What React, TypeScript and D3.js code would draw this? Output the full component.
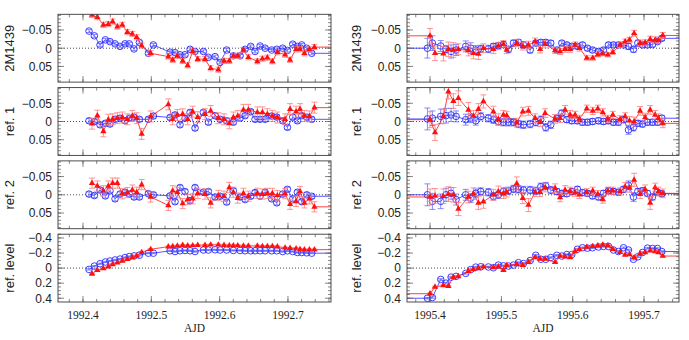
import React from 'react';
import * as d3 from 'd3';

// ---------- Night 1 (1992) ----------
const n1BlueT = [1992.4088, 1992.4166, 1992.4249, 1992.4327, 1992.4395, 1992.4469, 1992.4542, 1992.4615, 1992.4678, 1992.4747, 1992.4825, 1992.4957, 1992.5030, 1992.5274, 1992.5347, 1992.5420, 1992.5493, 1992.5567, 1992.5640, 1992.5762, 1992.5835, 1992.5933, 1992.6006, 1992.6103, 1992.6201, 1992.6299, 1992.6372, 1992.6455, 1992.6518, 1992.6592, 1992.6665, 1992.6762, 1992.6836, 1992.6923, 1992.6992, 1992.7070, 1992.7138, 1992.7202, 1992.7275, 1992.7348];
const n1RedT = [1992.4132, 1992.4210, 1992.4298, 1992.4371, 1992.4434, 1992.4503, 1992.4576, 1992.4649, 1992.4722, 1992.4786, 1992.4859, 1992.4991, 1992.5249, 1992.5313, 1992.5381, 1992.5459, 1992.5532, 1992.5606, 1992.5679, 1992.5786, 1992.5869, 1992.5981, 1992.6064, 1992.6142, 1992.6201, 1992.6265, 1992.6348, 1992.6421, 1992.6552, 1992.6626, 1992.6699, 1992.6772, 1992.6845, 1992.6958, 1992.7031, 1992.7119, 1992.7177, 1992.7241, 1992.7314, 1992.7387];

const n1TargetBlue = [-0.047, -0.034, -0.009, -0.023, -0.018, -0.012, -0.005, -0.012, -0.012, 0.002, -0.016, 0.014, -0.009, 0.011, 0.012, 0.018, 0.018, 0.003, 0.009, 0.009, 0.025, 0.023, 0.039, 0.005, 0.021, 0.021, 0.003, -0.005, 0.009, -0.006, 0, 0.005, 0.003, 0, 0.006, -0.011, -0.005, -0.009, 0, 0.014];
const n1TargetRed = [-0.091, -0.085, -0.064, -0.066, -0.073, -0.059, -0.064, -0.044, -0.039, -0.030, -0.007, 0.014, 0.023, 0.032, 0.021, 0.035, 0.047, 0.009, 0.030, 0.030, 0.055, 0.059, 0.035, 0.035, 0.021, 0.021, 0.005, 0.025, 0.036, 0.029, 0.026, 0.036, 0.011, 0.018, 0.032, 0.003, 0.003, 0.014, 0.003, -0.003];
const n1Ref1Blue = [-0.002, 0, 0.009, 0.005, 0.007, -0.006, -0.009, -0.002, -0.009, -0.012, -0.006, -0.006, -0.015, -0.011, -0.018, 0.009, -0.009, -0.025, 0.018, -0.025, 0.002, -0.016, -0.006, -0.002, 0.002, -0.009, -0.016, -0.027, -0.006, -0.006, -0.006, -0.015, -0.012, -0.002, 0.016, -0.012, -0.002, -0.016, -0.012, -0.006];
const n1Ref1Red = [0.006, -0.016, 0.027, -0.005, -0.006, -0.009, -0.011, -0.006, -0.015, -0.009, 0.034, -0.014, -0.047, -0.006, -0.018, -0.020, -0.006, -0.027, -0.012, -0.020, -0.029, -0.009, -0.006, 0.005, -0.011, -0.015, -0.032, -0.032, -0.025, -0.025, -0.020, -0.015, -0.011, -0.006, -0.034, -0.027, -0.034, -0.015, -0.014, -0.038];
const n1Ref2Blue = [-0.002, 0.002, -0.013, 0.003, -0.011, 0.011, -0.002, -0.007, -0.002, 0.006, 0.006, -0.003, 0, 0.003, 0.019, -0.020, -0.009, 0.016, -0.020, -0.007, -0.009, 0.006, 0.004, 0.020, -0.011, 0.006, 0.013, 0.004, -0.006, 0.004, -0.007, 0.011, 0.022, -0.002, -0.015, 0.011, -0.007, 0.019, 0, 0.004];
const n1Ref2Red = [-0.032, -0.024, -0.011, -0.024, -0.032, -0.032, -0.003, -0.006, -0.013, -0.007, -0.028, 0.006, 0.029, -0.011, -0.007, 0.024, 0.013, 0.011, -0.004, -0.002, 0.022, 0.002, 0.004, -0.020, -0.007, 0.009, -0.004, 0.004, -0.004, -0.002, -0.004, -0.004, 0.002, -0.003, 0.026, 0.018, -0.009, 0.022, 0.011, 0.033];
const n1LevelBlue = [0.018, -0.027, -0.058, -0.081, -0.094, -0.108, -0.12, -0.14, -0.153, -0.162, -0.171, -0.198, -0.198, -0.23, -0.22, -0.23, -0.234, -0.23, -0.22, -0.24, -0.24, -0.243, -0.24, -0.24, -0.234, -0.234, -0.23, -0.23, -0.23, -0.23, -0.23, -0.23, -0.23, -0.22, -0.23, -0.22, -0.207, -0.207, -0.203, -0.198];
const n1LevelRed = [0.077, 0.027, 0.005, -0.018, -0.05, -0.072, -0.094, -0.117, -0.14, -0.162, -0.21, -0.25, -0.285, -0.288, -0.295, -0.305, -0.298, -0.3, -0.305, -0.305, -0.31, -0.31, -0.305, -0.3, -0.3, -0.3, -0.295, -0.295, -0.295, -0.29, -0.29, -0.29, -0.285, -0.27, -0.265, -0.26, -0.25, -0.245, -0.245, -0.245];

// ---------- Night 2 (1995) ----------
const n2BlueT = [1995.3963, 1995.4033, 1995.4150, 1995.4224, 1995.4295, 1995.4365, 1995.4500, 1995.4570, 1995.4641, 1995.4711, 1995.4818, 1995.4888, 1995.4958, 1995.5029, 1995.5099, 1995.5169, 1995.5239, 1995.5309, 1995.5403, 1995.5482, 1995.5552, 1995.5622, 1995.5692, 1995.5777, 1995.5847, 1995.5917, 1995.5987, 1995.6066, 1995.6137, 1995.6207, 1995.6277, 1995.6361, 1995.6431, 1995.6501, 1995.6571, 1995.6641, 1995.6712, 1995.6782, 1995.6852, 1995.6913, 1995.6978, 1995.7048, 1995.7118, 1995.7188, 1995.7249];
const n2RedT = [1995.4000, 1995.4070, 1995.4187, 1995.4257, 1995.4327, 1995.4397, 1995.4538, 1995.4608, 1995.4678, 1995.4748, 1995.4888, 1995.4958, 1995.5029, 1995.5075, 1995.5216, 1995.5300, 1995.5379, 1995.5473, 1995.5543, 1995.5613, 1995.5753, 1995.5823, 1995.5893, 1995.5964, 1995.6034, 1995.6094, 1995.6197, 1995.6281, 1995.6352, 1995.6422, 1995.6492, 1995.6562, 1995.6665, 1995.6735, 1995.6796, 1995.6861, 1995.6945, 1995.7015, 1995.7086, 1995.7156, 1995.7202, 1995.7263];

const n2TargetBlue = [0, -0.014, -0.006, 0.003, 0.009, 0.005, -0.005, 0, 0.005, 0.002, 0.002, -0.005, -0.007, -0.01, 0.003, -0.014, -0.016, -0.009, 0.005, -0.014, -0.016, -0.016, -0.014, 0.005, -0.014, -0.009, -0.005, -0.005, -0.009, 0, 0.005, 0.009, 0.005, -0.009, -0.009, -0.009, -0.009, -0.005, 0.003, -0.014, -0.009, -0.009, -0.01, -0.018, -0.027];
const n2TargetRed = [-0.034, 0.014, 0.015, 0.003, 0.005, 0.003, 0.006, 0.014, 0.016, 0, 0.003, -0.006, -0.011, 0.005, -0.014, -0.005, -0.009, -0.018, 0.003, -0.011, 0.006, 0.009, 0.003, 0.003, -0.009, 0, 0.027, 0.027, 0.018, 0.015, 0.018, 0.011, -0.009, -0.018, -0.023, -0.041, -0.014, -0.015, -0.025, -0.023, -0.021, -0.035];
const n2Ref1Blue = [-0.007, -0.009, -0.014, -0.016, -0.018, -0.014, -0.005, -0.009, -0.002, -0.014, -0.009, -0.005, 0, 0.002, 0.002, 0.002, 0.007, 0.009, 0.007, 0.002, -0.005, 0.016, 0.009, -0.009, -0.023, -0.005, -0.002, -0.002, 0.002, 0.002, 0, -0.002, 0, -0.002, 0.002, 0.002, -0.005, 0.023, 0.016, 0.005, 0.007, 0.002, 0.002, 0.002, -0.009];
const n2Ref1Red = [-0.005, 0.03, -0.014, -0.082, -0.056, -0.064, -0.032, -0.015, -0.034, -0.055, -0.027, -0.006, -0.018, -0.016, 0.003, -0.027, -0.029, -0.009, 0.002, -0.023, -0.007, -0.009, -0.032, -0.018, -0.018, -0.007, -0.035, -0.029, -0.035, -0.025, -0.007, -0.018, -0.006, -0.014, -0.002, 0, -0.029, -0.011, -0.032, -0.018, -0.009, 0.005];
const n2Ref2Blue = [0, 0.018, 0.018, 0, -0.004, 0.013, 0, 0.009, -0.004, -0.009, -0.007, 0.004, 0, -0.009, -0.011, -0.016, -0.015, -0.013, -0.013, -0.011, -0.022, -0.024, -0.013, -0.009, -0.004, -0.003, -0.009, -0.015, -0.006, -0.004, 0.003, 0.006, -0.004, -0.011, -0.009, -0.007, -0.015, -0.026, 0.006, -0.009, -0.011, -0.004, 0.006, -0.007, -0.003];
const n2Ref2Red = [0.006, 0.003, 0.004, -0.002, 0, 0.039, 0.006, -0.003, 0.022, 0.019, 0, -0.009, -0.003, -0.007, -0.031, 0.009, 0.028, -0.007, -0.007, -0.02, -0.018, 0.007, -0.013, -0.009, -0.006, 0, -0.007, -0.011, -0.002, 0.013, -0.011, -0.011, -0.009, -0.022, -0.019, -0.041, -0.002, -0.015, 0.022, -0.02, -0.009, -0.004];
const n2LevelBlue = [0.4, 0.39, 0.15, 0.2, 0.12, 0.11, 0.07, 0.02, -0.013, -0.018, -0.015, -0.005, -0.04, -0.03, -0.027, -0.04, -0.072, -0.06, -0.1, -0.17, -0.117, -0.117, -0.14, -0.17, -0.16, -0.18, -0.18, -0.25, -0.27, -0.265, -0.27, -0.28, -0.288, -0.288, -0.24, -0.22, -0.27, -0.24, -0.117, -0.15, -0.207, -0.265, -0.26, -0.26, -0.22];
const n2LevelRed = [0.34, 0.25, 0.23, 0.24, 0.12, 0.11, 0.04, 0.018, 0.005, -0.018, -0.01, -0.02, 0.027, -0.036, -0.05, -0.04, -0.08, -0.14, -0.12, -0.12, -0.08, -0.16, -0.15, -0.14, -0.22, -0.25, -0.28, -0.29, -0.3, -0.31, -0.3, -0.25, -0.21, -0.175, -0.18, -0.14, -0.19, -0.207, -0.23, -0.22, -0.207, -0.16];

// error-bar half lengths
const n1ErrBlue = [0.004, 0.006, 0.006, 0.008];
const n1ErrRed = [0.007, 0.015, 0.014, 0.008];
const n2TargetBlueErr = [0.027, 0.02, 0.015, 0.01, 0.018, 0.015, 0.015, 0.015, 0.012, 0.01, 0.01, 0.008, 0.008, 0.008, 0.008, 0.008, 0.008, 0.008, 0.008, 0.007, 0.007, 0.007, 0.007, 0.006, 0.006, 0.006, 0.006, 0.006, 0.006, 0.006, 0.006, 0.006, 0.006, 0.006, 0.006, 0.006, 0.006, 0.008, 0.008, 0.008, 0.006, 0.006, 0.006, 0.006, 0.006];
const n2TargetRedErr = [0.02, 0.02, 0.02, 0.02, 0.02, 0.015, 0.015, 0.015, 0.015, 0.012, 0.012, 0.01, 0.01, 0.01, 0.01, 0.01, 0.01, 0.01, 0.01, 0.01, 0.008, 0.008, 0.008, 0.008, 0.008, 0.008, 0.006, 0.006, 0.006, 0.006, 0.006, 0.006, 0.007, 0.007, 0.007, 0.008, 0.008, 0.008, 0.008, 0.008, 0.008, 0.008];
const n2Ref1BlueErr = [0.03, 0.02, 0.02, 0.02, 0.018, 0.015, 0.015, 0.012, 0.012, 0.01, 0.01, 0.01, 0.01, 0.01, 0.01, 0.01, 0.01, 0.01, 0.01, 0.01, 0.01, 0.01, 0.01, 0.008, 0.008, 0.008, 0.008, 0.008, 0.008, 0.008, 0.008, 0.008, 0.008, 0.008, 0.008, 0.008, 0.008, 0.012, 0.01, 0.008, 0.008, 0.008, 0.008, 0.008, 0.008];
const n2Ref1RedErr = [0.022, 0.022, 0.02, 0.02, 0.02, 0.02, 0.02, 0.015, 0.015, 0.018, 0.015, 0.015, 0.012, 0.012, 0.012, 0.012, 0.012, 0.012, 0.012, 0.012, 0.012, 0.012, 0.012, 0.012, 0.01, 0.01, 0.01, 0.01, 0.01, 0.01, 0.01, 0.01, 0.01, 0.01, 0.012, 0.012, 0.012, 0.012, 0.012, 0.012, 0.012, 0.012];
const n2Ref2BlueErr = [0.03, 0.022, 0.02, 0.018, 0.016, 0.015, 0.015, 0.012, 0.012, 0.01, 0.01, 0.01, 0.01, 0.01, 0.01, 0.01, 0.01, 0.01, 0.01, 0.01, 0.01, 0.01, 0.01, 0.008, 0.008, 0.008, 0.008, 0.008, 0.008, 0.008, 0.008, 0.008, 0.008, 0.008, 0.008, 0.008, 0.008, 0.012, 0.012, 0.008, 0.008, 0.008, 0.008, 0.008, 0.008];
const n2Ref2RedErr = [0.022, 0.02, 0.02, 0.02, 0.02, 0.018, 0.016, 0.016, 0.018, 0.018, 0.015, 0.015, 0.013, 0.013, 0.018, 0.015, 0.018, 0.012, 0.012, 0.012, 0.012, 0.012, 0.012, 0.012, 0.01, 0.01, 0.01, 0.01, 0.01, 0.01, 0.01, 0.01, 0.01, 0.012, 0.012, 0.018, 0.012, 0.012, 0.018, 0.012, 0.012, 0.012];
const n2LevelErr = [0.01, 0.01, 0.01, 0.01];

const panelTitles = ['2M1439', 'ref. 1', 'ref. 2', 'ref. level'];
const n1XTicks = [1992.4, 1992.5, 1992.6, 1992.7];
const n2XTicks = [1995.4, 1995.5, 1995.6, 1995.7];
const smallYTicks = [-0.05, 0, 0.05];
const levelYTicks = [-0.4, -0.2, 0, 0.2, 0.4];

const BLUE = '#2b2bff';
const BLUE_ERR = '#6b6bff';
const RED = '#ff1010';
const RED_ERR = '#ff7a7a';
const FRAME = '#3a3a3a';

const PANEL_TOPS = [14.3, 87.6, 160.9, 234.2];
const PANEL_H = 67.8;

type Series = { t: number[]; v: number[]; err: number | number[] };

function Panel(props: {
  id: string;
  x0: number; x1: number; xDomain: [number, number];
  top: number; yMax: number; yTicks: number[]; yMinorStep: number;
  title: string; titleX: number;
  blue: Series; red: Series; extendLeft: boolean;
  xTicks: number[]; showXLabels: boolean;
}) {
  const { x0, x1, top, id } = props;
  const bottom = top + PANEL_H;
  const x = d3.scaleLinear().domain(props.xDomain).range([x0, x1]);
  const y = d3.scaleLinear().domain([-props.yMax, props.yMax]).range([top, bottom]);
  const xMinor = d3.range(Math.ceil(props.xDomain[0] / 0.02) * 0.02, props.xDomain[1], 0.02);
  const yMinor = d3.range(-Math.floor(props.yMax / props.yMinorStep) * props.yMinorStep, props.yMax, props.yMinorStep);
  const fmtY = (v: number) => (Math.abs(v) < 1e-9 ? '0' : (v < 0 ? '\u2212' : '') + String(+Math.abs(v).toFixed(3)));
  const line = d3.line<[number, number]>().x(d => d[0]).y(d => d[1]);
  const errOf = (s: Series, i: number) => (Array.isArray(s.err) ? s.err[i] : s.err);
  const seriesPath = (s: Series) => {
    const pts: [number, number][] = s.t.map((t, i) => [x(t), y(s.v[i])]);
    if (props.extendLeft) pts.unshift([x0, y(s.v[0])]);
    pts.push([x1, y(s.v[s.v.length - 1])]);
    return line(pts) || '';
  };
  const tri = d3.symbol().type(d3.symbolTriangle).size(17)();
  const cap = 3;
  return (
    <g>
      <defs>
        <clipPath id={id}>
          <rect x={x0} y={top} width={x1 - x0} height={PANEL_H} />
        </clipPath>
      </defs>
      <line x1={x0} x2={x1} y1={y(0)} y2={y(0)} stroke="#222" strokeWidth={0.8} strokeDasharray="1,2" />
      <g clipPath={`url(#${id})`}>
        <path d={seriesPath(props.blue)} fill="none" stroke={BLUE} strokeWidth={0.8} />
        {props.blue.t.map((t, i) => {
          const cx = x(t), cy = y(props.blue.v[i]);
          const e = errOf(props.blue, i);
          const e1 = y(props.blue.v[i] - e), e2 = y(props.blue.v[i] + e);
          return (
            <g key={'b' + i} stroke={BLUE_ERR} strokeWidth={0.8}>
              <line x1={cx} x2={cx} y1={e1} y2={e2} />
              <line x1={cx - cap} x2={cx + cap} y1={e1} y2={e1} />
              <line x1={cx - cap} x2={cx + cap} y1={e2} y2={e2} />
              <circle cx={cx} cy={cy} r={3.3} fill="none" stroke={BLUE} strokeWidth={0.9} />
            </g>
          );
        })}
        <path d={seriesPath(props.red)} fill="none" stroke={RED} strokeWidth={0.8} />
        {props.red.t.map((t, i) => {
          const cx = x(t), cy = y(props.red.v[i]);
          const e = errOf(props.red, i);
          const e1 = y(props.red.v[i] - e), e2 = y(props.red.v[i] + e);
          return (
            <g key={'r' + i} stroke={RED_ERR} strokeWidth={0.8}>
              <line x1={cx} x2={cx} y1={e1} y2={e2} />
              <line x1={cx - cap} x2={cx + cap} y1={e1} y2={e1} />
              <line x1={cx - cap} x2={cx + cap} y1={e2} y2={e2} />
              <path d={tri} transform={`translate(${cx},${cy})`} fill={RED} stroke="none" />
            </g>
          );
        })}
      </g>
      <g stroke="#666" strokeWidth={0.8}>
        {xMinor.map((t, i) => (
          <g key={'xm' + i}>
            <line x1={x(t)} x2={x(t)} y1={bottom} y2={bottom - 3} />
            <line x1={x(t)} x2={x(t)} y1={top} y2={top + 3} />
          </g>
        ))}
        {props.xTicks.map((t, i) => (
          <g key={'xM' + i}>
            <line x1={x(t)} x2={x(t)} y1={bottom} y2={bottom - 6} />
            <line x1={x(t)} x2={x(t)} y1={top} y2={top + 6} />
          </g>
        ))}
        {yMinor.map((v, i) => (
          <g key={'ym' + i}>
            <line x1={x0} x2={x0 + 3} y1={y(v)} y2={y(v)} />
            <line x1={x1} x2={x1 - 3} y1={y(v)} y2={y(v)} />
          </g>
        ))}
        {props.yTicks.map((v, i) => (
          <g key={'yM' + i}>
            <line x1={x0} x2={x0 + 6} y1={y(v)} y2={y(v)} />
            <line x1={x1} x2={x1 - 6} y1={y(v)} y2={y(v)} />
          </g>
        ))}
      </g>
      <rect x={x0} y={top} width={x1 - x0} height={PANEL_H} fill="none" stroke={FRAME} strokeWidth={0.9} />
      {props.yTicks.map((v, i) => (
        <text key={'yl' + i} x={x0 - 6} y={y(v) + 4.3} textAnchor="end" fontFamily="Liberation Sans, Arial, sans-serif" fontSize={12} fill="#222">
          {fmtY(v)}
        </text>
      ))}
      <text transform={`translate(${props.titleX},${(top + bottom) / 2}) rotate(-90)`} textAnchor="middle" fontFamily="Liberation Sans, Arial, sans-serif" fontSize={13} fill="#222">
        {props.title}
      </text>
      {props.showXLabels && props.xTicks.map((t, i) => (
        <text key={'xl' + i} x={x(t)} y={bottom + 17} textAnchor="middle" fontFamily="Liberation Serif, Times New Roman, serif" fontSize={11.5} fill="#222">
          {d3.format('.1f')(t)}
        </text>
      ))}
      {props.showXLabels && (
        <text x={(x0 + x1) / 2} y={bottom + 30} textAnchor="middle" fontFamily="Liberation Serif, Times New Roman, serif" fontSize={11.5} fill="#222">
          AJD
        </text>
      )}
    </g>
  );
}

export default function App() {
  const n1Blue = [n1TargetBlue, n1Ref1Blue, n1Ref2Blue, n1LevelBlue];
  const n1Red = [n1TargetRed, n1Ref1Red, n1Ref2Red, n1LevelRed];
  const n2Blue = [n2TargetBlue, n2Ref1Blue, n2Ref2Blue, n2LevelBlue];
  const n2Red = [n2TargetRed, n2Ref1Red, n2Ref2Red, n2LevelRed];
  const n2BlueErr: (number | number[])[] = [n2TargetBlueErr, n2Ref1BlueErr, n2Ref2BlueErr, n2LevelErr[0]];
  const n2RedErr: (number | number[])[] = [n2TargetRedErr, n2Ref1RedErr, n2Ref2RedErr, n2LevelErr[1]];
  return (
    <svg width={689} height={340} style={{ position: 'absolute', left: 0, top: 0, background: '#fff' }}>
      <rect width={689} height={340} fill="#fff" />
      {PANEL_TOPS.map((top, p) => (
        <g key={'L' + p}>
          <Panel
            id={'cl' + p}
            x0={58} x1={331} xDomain={[1992.3634, 1992.763]}
            top={top}
            yMax={p === 3 ? 0.45 : 0.093}
            yTicks={p === 3 ? levelYTicks : smallYTicks}
            yMinorStep={p === 3 ? 0.05 : 0.01}
            title={panelTitles[p]} titleX={13.5}
            blue={{ t: n1BlueT, v: n1Blue[p], err: n1ErrBlue[p] }}
            red={{ t: n1RedT, v: n1Red[p], err: n1ErrRed[p] }}
            extendLeft={false}
            xTicks={n1XTicks} showXLabels={p === 3}
          />
          <Panel
            id={'cr' + p}
            x0={407} x1={679} xDomain={[1995.3677, 1995.749]}
            top={top}
            yMax={p === 3 ? 0.45 : 0.093}
            yTicks={p === 3 ? levelYTicks : smallYTicks}
            yMinorStep={p === 3 ? 0.05 : 0.01}
            title={panelTitles[p]} titleX={361}
            blue={{ t: n2BlueT, v: n2Blue[p], err: n2BlueErr[p] }}
            red={{ t: n2RedT, v: n2Red[p], err: n2RedErr[p] }}
            extendLeft={true}
            xTicks={n2XTicks} showXLabels={p === 3}
          />
        </g>
      ))}
    </svg>
  );
}
